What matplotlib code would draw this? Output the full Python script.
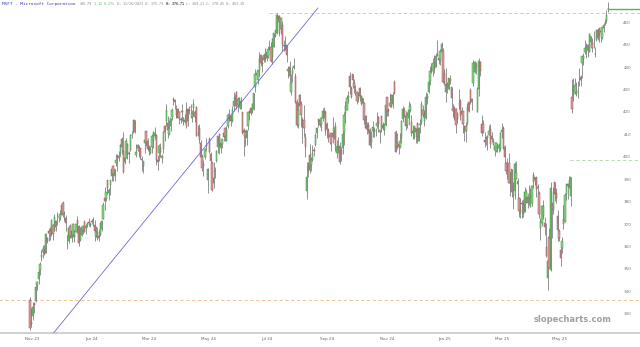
import numpy as np
import matplotlib
matplotlib.use('Agg')
import matplotlib.pyplot as plt

# daily OHLC, Oct 26 2023 .. Jun 6 2025 (one line per month)
opens = [
    340.5, 330.4, 333.4, 338.9,
    339.8, 347.2, 349.6, 353.5, 359.4, 361.7, 362.3, 361.5, 368.2, 371.0, 371.3, 370.1, 373.6, 371.2, 375.7, 378.0, 377.3, 376.8, 378.4, 383.8, 378.5,
    376.8, 369.1, 366.5, 373.5, 368.2, 369.2, 368.5, 370.8, 376.0, 373.3, 366.9, 369.5, 371.5, 375.0, 372.6, 373.7, 375.0, 373.7, 375.4, 376.0,
    373.9, 369.0, 370.7, 368.9, 369.3, 372.0, 376.4, 386.0, 385.5, 393.7, 388.0, 391.7, 395.8, 400.0, 395.8, 401.5, 404.3, 404.4, 406.1, 412.3, 407.0,
    401.8, 403.8, 409.9, 405.9, 407.4, 414.1, 415.3, 420.6, 404.9, 408.0, 408.1, 408.0, 403.2, 400.2, 410.2, 415.7, 411.5, 408.0, 405.9, 408.6,
    411.3, 413.4, 414.0, 403.0, 406.1, 408.0, 403.8, 407.6, 418.1, 420.2, 419.3, 414.3, 417.8, 422.0, 429.8, 429.7, 425.2, 425.6, 424.4, 421.0,
    424.0, 420.1, 419.7, 425.0, 420.0, 425.2, 426.4, 422.2, 425.8, 424.1, 426.6, 414.6, 417.3, 410.6, 404.0, 400.1, 404.2, 409.6, 394.0, 412.2, 405.3, 401.5,
    392.6, 397.7, 402.3, 408.8, 414.4, 408.0, 409.9, 412.9, 417.0, 411.3, 417.9, 421.8, 422.5, 420.2, 426.8, 430.1, 433.0, 427.2, 429.6, 425.7, 424.3, 416.0,
    415.5, 412.4, 417.8, 424.0, 426.2, 424.7, 425.5, 435.3, 440.9, 438.3, 442.6, 449.7, 446.3, 447.4, 449.8, 448.3, 449.0, 452.2, 453.1,
    448.7, 453.2, 458.2, 459.6, 466.6, 467.0, 461.2, 463.0, 454.3, 453.3, 454.2, 442.6, 444.3, 433.1, 441.0, 443.9, 440.5, 428.8, 418.2, 431.6, 427.7, 420.5,
    420.8, 412.5, 389.0, 398.0, 405.0, 400.6, 402.9, 407.1, 409.3, 414.8, 419.8, 420.6, 419.0, 421.7, 424.1, 424.4, 419.0, 416.4, 412.9, 414.9, 414.9, 415.6,
    417.9, 405.9, 407.6, 409.1, 407.2, 408.2, 415.5, 423.7, 425.3, 430.6, 440.2, 435.0, 441.2, 437.2, 434.2, 433.0, 429.8, 435.1, 431.5, 428.2,
    428.4, 422.6, 417.6, 418.2, 416.0, 410.9, 415.9, 415.2, 416.1, 417.8, 422.2, 415.2, 422.4, 417.1, 416.1, 418.5, 430.9, 425.3, 426.8, 431.7, 428.0, 437.4, 415.4,
    409.0, 409.8, 408.4, 412.4, 421.3, 425.3, 422.5, 418.3, 421.6, 425.0, 419.8, 414.9, 413.1, 416.9, 419.5, 411.4, 418.4, 419.6, 425.1, 420.1,
    421.6, 429.8, 433.0, 437.9, 442.3, 442.6, 444.4, 444.1, 449.1, 448.4, 447.3, 451.0, 451.3, 441.6, 433.1, 436.7, 434.7, 439.1, 435.2, 426.1, 426.1,
    425.5, 421.1, 428.0, 429.0, 423.5, 424.6, 415.2, 417.8, 419.1, 428.7, 434.1, 430.2, 437.0, 442.0, 445.2, 424.0, 434.6, 446.7, 418.8, 419.0,
    411.6, 412.7, 412.4, 414.0, 416.5, 413.7, 409.6, 407.2, 407.0, 407.8, 408.0, 407.9, 415.3, 417.3, 408.5, 401.3, 398.0, 401.3, 392.7,
    398.8, 386.9, 389.0, 394.3, 392.3, 385.8, 379.0, 383.5, 383.1, 379.8, 385.7, 386.5, 386.1, 382.0, 383.6, 395.9, 394.0, 395.0, 390.1, 388.1, 372.5,
    374.7, 378.0, 374.8, 364.1, 350.0, 368.1, 353.5, 382.1, 380.6, 393.2, 388.1, 378.0, 371.1, 362.8, 363.4, 376.4, 375.3, 387.6, 391.9, 390.8, 386.6,
    431.1, 431.7, 432.9, 432.2, 433.8, 437.9, 440.0, 445.9, 447.8, 450.8, 450.8, 452.1, 450.9, 455.6, 454.6, 454.9, 450.0, 456.5, 460.7, 461.6, 459.7,
    457.1, 461.5, 464.0, 465.0, 470.1,
]
highs = [
    341.6, 336.7, 339.4, 339.0,
    347.4, 348.8, 354.4, 357.5, 362.5, 365.0, 364.8, 370.1, 368.5, 372.6, 373.1, 376.4, 374.4, 378.9, 376.2, 379.8, 377.9, 380.6, 383.0, 384.3, 380.1,
    378.2, 369.5, 373.1, 374.2, 371.5, 374.5, 371.6, 374.4, 377.6, 373.8, 372.8, 373.0, 373.3, 376.0, 374.4, 375.2, 376.9, 375.1, 376.5, 377.2,
    375.9, 373.3, 373.1, 372.1, 375.2, 376.0, 384.2, 390.7, 388.7, 394.0, 390.1, 393.9, 398.7, 400.4, 399.0, 405.6, 404.7, 407.0, 410.0, 413.1, 415.3,
    408.0, 412.7, 410.4, 407.0, 414.3, 415.6, 420.8, 420.7, 410.1, 410.0, 409.5, 408.3, 404.5, 402.3, 412.8, 415.9, 412.8, 409.3, 409.0, 414.2,
    415.9, 417.4, 414.3, 405.2, 409.8, 410.4, 405.7, 415.6, 418.2, 427.8, 422.6, 420.7, 421.7, 426.0, 430.8, 429.9, 427.4, 426.0, 424.5, 421.9,
    427.9, 422.1, 423.3, 428.7, 426.0, 427.0, 427.7, 425.3, 430.0, 425.3, 426.8, 418.4, 418.9, 411.9, 405.5, 402.9, 408.2, 412.5, 399.1, 413.0, 406.3, 402.2,
    401.7, 399.9, 407.2, 413.6, 414.4, 411.0, 412.2, 415.4, 417.5, 417.9, 423.8, 425.4, 422.9, 426.8, 433.0, 432.4, 433.6, 431.1, 430.8, 430.9, 424.3, 416.9,
    416.4, 416.4, 424.1, 425.3, 426.3, 428.1, 432.8, 443.4, 443.4, 443.1, 450.9, 450.1, 449.0, 450.6, 452.7, 451.4, 453.6, 456.2, 455.4,
    457.4, 459.6, 461.0, 468.4, 467.7, 467.3, 466.5, 464.8, 456.4, 458.2, 454.3, 444.9, 446.8, 441.1, 444.4, 448.4, 441.5, 429.8, 428.9, 432.2, 429.0, 421.8,
    427.5, 415.0, 401.8, 402.0, 409.9, 404.3, 409.7, 408.8, 415.0, 417.7, 421.1, 421.3, 421.8, 425.9, 426.5, 425.2, 419.7, 417.3, 414.9, 415.0, 422.1, 417.5,
    419.9, 411.8, 413.1, 410.7, 408.6, 416.3, 424.0, 429.0, 431.8, 433.5, 441.9, 436.0, 441.3, 439.0, 436.1, 433.5, 433.1, 435.3, 431.8, 430.4,
    428.5, 422.8, 419.6, 419.8, 417.1, 415.7, 420.0, 417.4, 417.1, 424.0, 422.5, 416.4, 422.5, 419.6, 419.0, 430.6, 431.1, 426.0, 432.5, 431.9, 433.2, 438.5, 416.2,
    415.0, 410.4, 414.9, 420.5, 426.9, 426.5, 424.8, 424.4, 429.3, 428.2, 422.8, 418.4, 418.0, 417.3, 419.8, 417.4, 421.1, 429.0, 427.2, 424.9,
    433.0, 432.5, 439.7, 444.7, 446.1, 448.3, 449.6, 450.4, 456.2, 451.4, 452.2, 455.3, 452.6, 443.2, 443.7, 437.7, 439.6, 440.9, 435.2, 427.6, 426.7,
    426.1, 424.0, 434.3, 430.0, 426.3, 424.7, 418.5, 419.7, 428.2, 429.0, 435.0, 430.4, 447.3, 446.8, 446.6, 435.2, 448.4, 446.9, 422.9, 420.7,
    415.4, 413.5, 413.8, 418.2, 418.7, 415.5, 412.5, 410.8, 411.0, 410.6, 410.6, 415.5, 419.3, 418.0, 409.4, 401.9, 403.6, 405.9, 397.6,
    398.8, 392.8, 401.8, 402.5, 394.8, 386.4, 386.0, 385.1, 385.3, 390.6, 389.7, 386.8, 391.6, 390.1, 391.7, 397.3, 395.2, 395.3, 392.2, 389.1, 377.1,
    382.9, 385.1, 377.5, 374.6, 368.7, 372.4, 393.2, 383.9, 390.6, 393.2, 390.3, 380.5, 371.8, 364.5, 368.5, 382.6, 388.1, 392.1, 392.5, 395.6, 395.3,
    439.1, 439.4, 439.5, 437.7, 438.1, 443.7, 440.7, 449.4, 450.7, 456.2, 455.1, 454.4, 459.6, 458.3, 457.3, 460.3, 453.2, 461.0, 461.7, 461.7, 461.7,
    462.1, 464.1, 465.7, 469.7, 473.3,
]
lows = [
    326.9, 328.3, 331.5, 334.7,
    339.6, 344.8, 347.3, 351.5, 357.6, 359.2, 360.3, 361.1, 365.9, 366.6, 367.1, 369.0, 367.0, 371.0, 371.1, 374.0, 375.1, 376.2, 378.2, 377.4, 375.5,
    371.2, 362.9, 365.6, 368.0, 366.3, 368.5, 366.1, 370.5, 370.2, 364.5, 366.5, 368.7, 369.8, 370.5, 370.0, 372.7, 373.5, 372.7, 374.2, 373.5,
    366.8, 368.5, 367.2, 366.5, 369.0, 371.2, 376.3, 380.4, 384.7, 387.6, 384.8, 387.3, 393.6, 393.6, 393.3, 400.1, 398.0, 402.5, 404.4, 405.3, 397.2,
    401.1, 403.6, 403.4, 401.5, 406.9, 412.5, 414.8, 414.8, 404.2, 406.9, 404.0, 403.4, 398.0, 397.2, 405.9, 408.9, 407.0, 405.0, 405.3, 405.9,
    408.2, 412.3, 400.6, 398.4, 402.2, 404.3, 401.3, 406.0, 411.5, 418.0, 412.8, 413.8, 415.6, 420.7, 427.2, 425.4, 421.6, 421.4, 419.0, 419.1,
    420.0, 418.2, 419.1, 417.2, 418.1, 423.5, 421.6, 419.8, 422.5, 419.8, 413.4, 413.7, 410.3, 404.0, 397.8, 395.8, 403.1, 406.8, 388.0, 405.8, 399.2, 389.1,
    390.3, 394.7, 401.9, 405.8, 405.4, 406.0, 408.3, 411.1, 411.1, 411.1, 417.3, 420.3, 418.0, 419.9, 424.8, 427.1, 425.4, 424.4, 426.6, 425.7, 414.2, 404.5,
    408.9, 409.7, 416.3, 420.6, 423.0, 423.9, 425.2, 433.3, 439.4, 436.7, 440.3, 444.9, 442.0, 446.5, 446.4, 446.8, 448.2, 451.8, 446.4,
    445.7, 453.1, 457.9, 459.0, 464.5, 458.0, 458.9, 451.6, 451.4, 452.0, 446.7, 439.4, 435.9, 432.0, 437.4, 443.5, 428.4, 417.5, 417.3, 424.7, 417.4, 410.3,
    413.1, 404.3, 385.6, 395.1, 397.1, 398.0, 402.5, 404.6, 409.0, 412.5, 417.7, 417.6, 415.6, 420.4, 421.6, 414.1, 412.5, 410.9, 410.0, 406.9, 410.6, 412.1,
    407.0, 403.9, 406.1, 400.8, 402.3, 405.7, 409.6, 419.2, 425.2, 428.2, 432.3, 430.4, 434.8, 432.8, 431.8, 427.7, 428.6, 429.1, 427.5, 425.4,
    418.8, 416.7, 414.3, 415.0, 409.0, 408.2, 413.1, 413.2, 413.6, 416.9, 415.3, 410.5, 415.3, 416.3, 413.8, 418.0, 422.5, 422.4, 426.6, 426.3, 425.8, 432.1, 406.3,
    407.8, 405.6, 408.1, 410.5, 419.9, 421.8, 416.0, 417.2, 418.2, 424.2, 413.6, 412.1, 412.1, 410.6, 410.3, 411.1, 414.9, 418.9, 422.0, 417.8,
    421.3, 427.7, 432.6, 436.2, 441.8, 440.5, 441.6, 444.1, 449.1, 445.6, 445.3, 449.3, 437.0, 436.1, 428.6, 432.8, 434.2, 436.6, 426.4, 421.9, 420.7,
    414.9, 419.5, 425.5, 420.5, 421.0, 414.9, 411.3, 410.7, 418.3, 424.4, 428.0, 425.1, 436.0, 441.5, 441.4, 424.0, 431.4, 440.4, 413.6, 414.9,
    408.7, 409.4, 407.4, 414.0, 408.1, 410.7, 409.3, 404.4, 406.4, 406.5, 406.5, 407.0, 412.5, 407.9, 399.3, 396.7, 394.3, 392.5, 386.6,
    386.2, 381.0, 385.3, 394.2, 385.5, 377.2, 376.9, 376.7, 377.5, 379.5, 383.5, 381.3, 382.6, 381.7, 382.2, 390.4, 391.7, 386.4, 387.4, 376.9, 367.2,
    373.2, 376.6, 369.4, 359.5, 344.8, 354.5, 353.1, 367.8, 378.9, 384.4, 383.5, 366.7, 366.6, 355.7, 361.4, 372.1, 375.1, 384.9, 385.4, 390.3, 382.1,
    423.9, 429.0, 432.1, 431.2, 430.5, 435.7, 435.9, 439.6, 445.4, 450.2, 448.5, 448.9, 450.8, 454.3, 451.0, 453.0, 448.9, 456.1, 456.5, 455.3, 455.3,
    456.9, 460.0, 463.0, 464.0, 468.8,
]
closes = [
    327.9, 329.8, 337.3, 338.1,
    346.1, 348.3, 352.8, 356.5, 360.5, 363.2, 360.7, 369.7, 366.7, 370.3, 369.7, 376.2, 369.9, 377.4, 373.1, 377.9, 377.4, 378.6, 382.7, 378.9, 378.9,
    374.5, 369.1, 372.5, 368.8, 371.0, 374.2, 371.3, 374.4, 374.4, 365.9, 370.7, 372.7, 373.3, 370.6, 373.5, 374.6, 374.7, 374.1, 375.3, 376.0,
    370.9, 370.6, 368.0, 367.8, 374.7, 375.8, 382.8, 384.6, 388.5, 390.3, 389.5, 393.9, 398.7, 396.5, 398.9, 402.6, 404.9, 403.9, 409.7, 408.6, 397.6,
    403.8, 411.2, 405.7, 405.5, 414.1, 414.1, 420.6, 415.3, 406.3, 409.5, 406.6, 404.1, 402.8, 402.2, 411.7, 410.3, 407.5, 407.5, 407.7, 413.6,
    415.5, 414.9, 402.7, 402.1, 409.1, 406.2, 404.5, 415.3, 415.1, 425.2, 416.4, 417.3, 421.4, 425.2, 429.4, 428.7, 422.9, 421.7, 421.4, 420.7,
    424.6, 421.4, 420.5, 417.9, 425.5, 424.6, 426.3, 423.3, 427.9, 421.9, 413.6, 414.6, 411.8, 404.3, 399.1, 401.0, 407.6, 409.1, 399.0, 406.3, 402.3, 389.3,
    394.9, 397.8, 406.7, 413.5, 409.3, 410.5, 412.3, 414.7, 413.7, 416.6, 423.1, 421.0, 420.2, 425.3, 429.0, 430.5, 427.0, 430.2, 430.3, 429.2, 414.7, 415.1,
    413.5, 416.1, 424.0, 424.5, 423.9, 427.9, 432.7, 441.1, 441.6, 442.6, 448.4, 446.3, 445.7, 449.8, 447.7, 451.0, 452.2, 452.9, 447.0,
    456.7, 459.3, 460.8, 467.6, 466.2, 459.5, 466.3, 454.7, 453.6, 454.0, 449.5, 443.5, 440.4, 437.1, 442.9, 444.9, 428.9, 418.4, 425.3, 426.7, 422.9, 418.4,
    417.1, 408.5, 395.2, 399.6, 398.4, 402.7, 406.0, 406.8, 414.0, 416.9, 421.0, 418.5, 421.5, 424.8, 424.1, 415.6, 416.8, 413.5, 413.8, 410.6, 413.1, 417.1,
    409.4, 408.9, 408.4, 401.7, 405.7, 414.2, 423.0, 427.0, 430.6, 431.3, 435.2, 430.8, 438.7, 435.3, 433.5, 429.2, 432.1, 431.3, 428.0, 430.3,
    420.7, 417.1, 416.5, 416.1, 409.5, 414.7, 417.5, 415.8, 416.3, 419.1, 418.7, 416.1, 416.7, 418.2, 418.8, 427.5, 424.6, 424.7, 428.2, 426.6, 432.0, 432.5, 406.4,
    410.4, 408.5, 411.5, 420.2, 425.4, 422.5, 418.0, 423.0, 425.2, 426.9, 415.0, 415.8, 417.8, 415.5, 412.9, 417.0, 418.8, 428.0, 423.0, 423.5,
    431.0, 431.2, 437.4, 442.6, 443.6, 446.0, 443.3, 449.0, 449.6, 447.3, 451.6, 454.5, 437.4, 437.0, 436.6, 435.3, 439.3, 438.1, 430.5, 424.8, 421.5,
    418.6, 423.4, 427.9, 422.4, 424.6, 419.0, 417.2, 415.7, 426.3, 424.6, 429.0, 428.5, 446.2, 446.7, 444.1, 434.6, 447.2, 442.3, 415.0, 415.1,
    410.9, 412.4, 413.3, 415.8, 409.8, 412.2, 411.4, 409.0, 410.5, 408.4, 409.6, 414.8, 416.1, 408.2, 404.0, 397.9, 399.7, 392.5, 397.0,
    388.5, 388.6, 401.0, 396.9, 393.3, 380.2, 380.5, 383.3, 378.8, 388.6, 388.7, 383.5, 387.8, 386.8, 391.3, 393.1, 395.2, 390.0, 390.6, 378.8, 375.4,
    382.2, 382.1, 373.1, 359.8, 357.9, 354.6, 390.5, 381.4, 388.5, 387.8, 385.7, 371.6, 367.8, 359.1, 366.8, 374.4, 387.3, 391.9, 391.2, 394.0, 395.3,
    425.4, 435.3, 436.2, 433.3, 433.4, 438.2, 438.7, 449.3, 449.1, 452.9, 453.1, 454.3, 458.9, 458.2, 452.6, 454.9, 450.2, 460.7, 457.4, 458.7, 460.4,
    462.0, 463.0, 463.9, 467.7, 470.4,
]

tick_pos = [1.5, 43, 83, 124.5, 165, 207, 249, 289.5, 329, 369.5]
tick_labels = ['Nov 23', 'Jan 24', 'Mar 24', 'May 24', 'Jul 24',
               'Sep 24', 'Nov 24', 'Jan 25', 'Mar 25', 'May 25']
price_ticks = [464, 454, 444, 434, 424, 414, 404, 394, 384, 374, 364, 354, 344, 334]
price_labels = ['460', '450', '440', '430', '420', '410', '400', '390', '380', '370', '360', '350', '340', '330']

# header pieces: text, colour, weight
header = [('406.79', '#8a8a8a', 'normal'), ('1.12 0.27%', '#5cb85c', 'normal'),
          ('D: 12/26/2023 O: 375.79', '#8a8a8a', 'normal'), ('H: 376.71', '#444444', 'bold'),
          ('L: 369.21 C: 370.45 V: 463.38', '#8a8a8a', 'normal')]

# drawn lines: trendline anchors and horizontal levels
trend_x = [15.3, 200.8]
trend_y = [324.7, 470.6]
levels = [(468.4, 167, '#f0b888'), (340.3, -30, '#f0b888'), (402.8, 376.6, '#a8d8a0')]
last_price = 470.4

n = len(closes)
assert len(opens) == n and len(highs) == n and len(lows) == n, (len(opens), len(highs), len(lows), n)
o = np.array(opens); h = np.array(highs); l = np.array(lows); c = np.array(closes)
x = np.arange(n)
up = c >= o

fig = plt.figure(figsize=(6.4, 3.47), dpi=100)
ax = fig.add_axes([0, 14/347, 1, 333/347])

ax.vlines(x, l, h, color='#666666', linewidth=0.5, zorder=2)
ax.bar(x[up], (c - o)[up], bottom=o[up], width=0.9, color='#8ad68a',
       edgecolor='#3f8f3f', linewidth=0.35, zorder=3)
ax.bar(x[~up], (o - c)[~up], bottom=c[~up], width=0.9, color='#d8a0a0',
       edgecolor='#985050', linewidth=0.35, zorder=3)

ax.plot(trend_x, trend_y, color='#6a6ae0', linewidth=0.6, zorder=4)
for lvl, start, col in levels:
    ax.plot([start, 500], [lvl, lvl], color=col, linewidth=0.6, linestyle=(0, (4, 3)), zorder=1)
ax.plot([n - 1, 500], [last_price, last_price], color='#58b058', linewidth=1.0, zorder=4)

ax.set_xlim(-20.9, 425.4)
ax.set_ylim(325.6, 474.2)

for s in ['top', 'left', 'right']:
    ax.spines[s].set_visible(False)
ax.spines['bottom'].set_color('#c8c8c8')
ax.spines['bottom'].set_linewidth(1.2)
ax.set_yticks([])
ax.set_xticks(tick_pos)
ax.set_xticklabels(tick_labels, fontsize=3, color='#666666')
ax.tick_params(axis='x', length=0, pad=3)

for p, s in zip(price_ticks, price_labels):
    ax.text(0.98, p, s, transform=ax.get_yaxis_transform(), fontsize=3,
            color='#777777', ha='center', va='center')

ax.text(0.003, 0.995, 'MSFT - Microsoft Corporation', transform=ax.transAxes,
        fontsize=3.2, color='#3a3ab0', family='DejaVu Sans Mono', va='top')

# header pieces laid out one after another using measured extents
renderer = fig.canvas.get_renderer()
px = 80.0
for txt, col, wt in header:
    t = fig.text(px / 640, 1 - 2 / 347, txt, fontsize=2.4, color=col, fontweight=wt,
                 family='DejaVu Sans Mono', va='top')
    px = t.get_window_extent(renderer).x1 + 2.5

ax.text(0.955, 0.04, 'slopecharts.com', transform=ax.transAxes, fontsize=6,
        color='#a0a0a0', fontweight='bold', ha='right', va='center')

fig.savefig('out.png', dpi=100)
